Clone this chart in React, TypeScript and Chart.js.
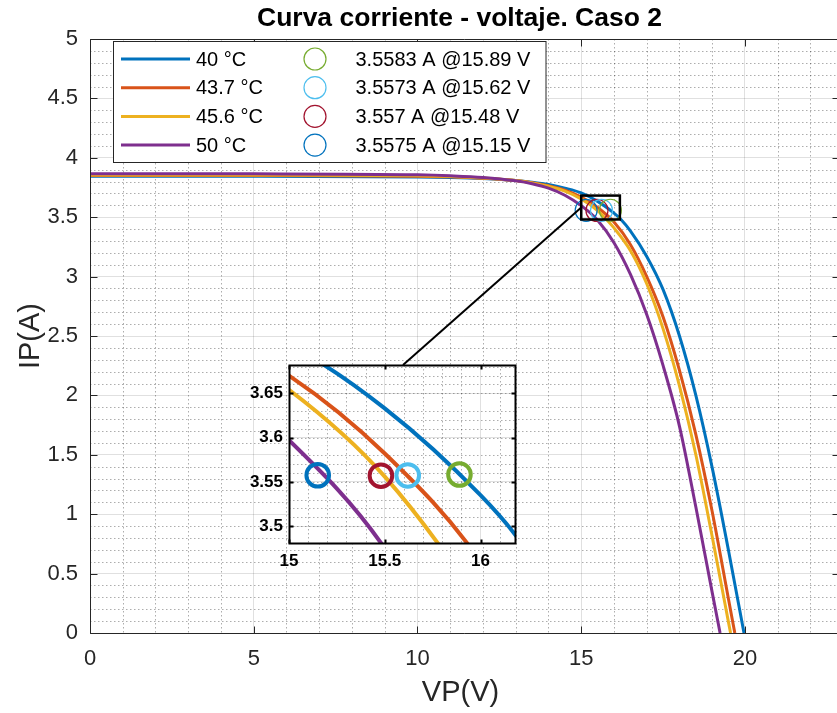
import React, { useEffect, useRef } from 'react';
import { Chart, registerables } from 'chart.js';

Chart.register(...registerables);

// ---------------- data ----------------
const seriesLabels = ['40 °C', '43.7 °C', '45.6 °C', '50 °C'];
const seriesColors = ['#0072BD', '#D95319', '#EDB120', '#7E2F8E'];

const v40 = [0, 5, 10, 11, 12, 13, 13.5, 14, 14.5, 15, 15.5, 16, 16.2, 16.5, 17, 17.5, 18, 18.5, 19, 19.5, 19.97];
const i40 = [3.845, 3.844, 3.838, 3.834, 3.826, 3.81, 3.795, 3.775, 3.745, 3.705, 3.633, 3.535, 3.485, 3.385, 3.17, 2.89, 2.5, 2.0, 1.39, 0.69, 0];

const v43 = [0, 5, 10, 11, 12, 13, 13.5, 14, 14.5, 15, 15.5, 16, 16.5, 17, 17.5, 18, 18.5, 19, 19.5, 19.69];
const i43 = [3.852, 3.851, 3.845, 3.84, 3.828, 3.808, 3.79, 3.764, 3.728, 3.67, 3.582, 3.46, 3.27, 3.0, 2.66, 2.21, 1.67, 1.02, 0.28, 0];

const v45 = [0, 5, 10, 11, 12, 13, 13.5, 14, 14.5, 15, 15.5, 16, 16.5, 17, 17.5, 18, 18.5, 19, 19.5, 19.56];
const i45 = [3.856, 3.855, 3.849, 3.843, 3.83, 3.809, 3.789, 3.76, 3.72, 3.654, 3.556, 3.41, 3.22, 2.94, 2.56, 2.08, 1.5, 0.81, 0.085, 0];

const v50 = [0, 5, 10, 11, 12, 13, 13.5, 14, 14.5, 15, 15.5, 16, 16.5, 17, 17.5, 18, 18.5, 19, 19.24];
const i50 = [3.866, 3.865, 3.857, 3.849, 3.835, 3.806, 3.782, 3.745, 3.685, 3.597, 3.475, 3.285, 3.02, 2.68, 2.25, 1.74, 1.06, 0.34, 0];

const markerLabels = ['3.5583 A @15.89 V', '3.5573 A @15.62 V', '3.557 A @15.48 V', '3.5575 A @15.15 V'];
const markerV = [15.89, 15.62, 15.48, 15.15];
const markerI = [3.5583, 3.5573, 3.557, 3.5575];
const markerColors = ['#77AC30', '#4DBEEE', '#A2142F', '#0072BD'];

const xTicks = [0, 5, 10, 15, 20];
const xTickLabels = ['0', '5', '10', '15', '20'];
const yTicks = [0, 0.5, 1, 1.5, 2, 2.5, 3, 3.5, 4, 4.5, 5];
const yTickLabels = ['0', '0.5', '1', '1.5', '2', '2.5', '3', '3.5', '4', '4.5', '5'];

const insetXTicks = [15, 15.5, 16];
const insetXTickLabels = ['15', '15.5', '16'];
const insetYTicks = [3.5, 3.55, 3.6, 3.65];
const insetYTickLabels = ['3.5', '3.55', '3.6', '3.65'];

const titleText = 'Curva corriente - voltaje. Caso 2';
const xLabelText = 'VP(V)';
const yLabelText = 'IP(A)';

// ---------------- styling / layout ----------------
const FONT = "'Liberation Sans', Arial, Helvetica, sans-serif";
const X_MIN = 0, X_MAX = 22.81, Y_MIN = 0, Y_MAX = 5;
const IX_MIN = 15.0, IX_MAX = 16.18, IY_MIN = 3.481, IY_MAX = 3.682;
const AXIS_COLOR = '#262626';
const MAJOR_GRID = 'rgba(0,0,0,0.12)';
const MINOR_GRID = 'rgba(0,0,0,0.32)';

const MAIN_W = 837, MAIN_H = 713;
const INSET_LEFT = 240, INSET_TOP = 355, INSET_W = 295, INSET_H = 230, INSET_RIGHT = 515;

function curveDatasets(lw: number, clip: any) {
  const vs = [v40, v43, v45, v50];
  const is = [i40, i43, i45, i50];
  return vs.map((arr, s) => ({
    label: seriesLabels[s],
    data: arr.map((v, k) => ({ x: v, y: is[s][k] })),
    borderColor: seriesColors[s],
    backgroundColor: seriesColors[s],
    borderWidth: lw,
    pointRadius: 0,
    pointHoverRadius: 0,
    cubicInterpolationMode: 'monotone',
    fill: false,
    clip,
    order: 10 - s,
  }));
}

function markerDatasets(r: number, lw: number) {
  return markerV.map((v, m) => ({
    label: markerLabels[m],
    data: [{ x: v, y: markerI[m] }],
    showLine: false,
    pointStyle: 'circle',
    pointRadius: r,
    pointHoverRadius: r,
    pointBorderWidth: lw,
    pointBorderColor: markerColors[m],
    pointBackgroundColor: 'rgba(0,0,0,0)',
    borderColor: markerColors[m],
    backgroundColor: 'rgba(0,0,0,0)',
    order: m,
  }));
}

function minorGrid(chart: any, xStep: number, xFrom: number, xTo: number, yStep: number, yFrom: number, yTo: number, skipX: number, skipY: number) {
  const { ctx, chartArea: a, scales } = chart;
  ctx.save();
  ctx.beginPath();
  ctx.rect(a.left, a.top, a.right - a.left, a.bottom - a.top);
  ctx.clip();
  ctx.strokeStyle = MINOR_GRID;
  ctx.lineWidth = 1;
  ctx.setLineDash([1.5, 2.5]);
  const nx = Math.round((xTo - xFrom) / xStep);
  for (let k = 0; k <= nx; k++) {
    if (k % skipX === 0) continue;
    const v = xFrom + k * xStep;
    const px = Math.round(scales.x.getPixelForValue(v)) + 0.5;
    ctx.beginPath();
    ctx.moveTo(px, a.top);
    ctx.lineTo(px, a.bottom);
    ctx.stroke();
  }
  const ny = Math.round((yTo - yFrom) / yStep);
  for (let k = 0; k <= ny; k++) {
    if (k % skipY === 0) continue;
    const v = yFrom + k * yStep;
    const py = Math.round(scales.y.getPixelForValue(v)) + 0.5;
    ctx.beginPath();
    ctx.moveTo(a.left, py);
    ctx.lineTo(a.right, py);
    ctx.stroke();
  }
  ctx.restore();
}

// box with inward ticks; rightExtra pushes the right edge outward (beyond a cropped canvas)
function boxAndTicks(chart: any, xt: number[], yt: number[], color: string, lw: number, len: number, rightExtra: number) {
  const { ctx, chartArea: a, scales } = chart;
  const L = Math.round(a.left) + 0.5;
  const T = Math.round(a.top) + 0.5;
  const B = Math.round(a.bottom) + 0.5;
  const R = Math.round(a.right + rightExtra) + 0.5;
  ctx.save();
  ctx.strokeStyle = color;
  ctx.lineWidth = lw;
  ctx.setLineDash([]);
  ctx.beginPath();
  xt.forEach((v) => {
    const px = Math.round(scales.x.getPixelForValue(v)) + 0.5;
    ctx.moveTo(px, B);
    ctx.lineTo(px, B - len);
    ctx.moveTo(px, T);
    ctx.lineTo(px, T + len);
  });
  yt.forEach((v) => {
    const py = Math.round(scales.y.getPixelForValue(v)) + 0.5;
    ctx.moveTo(L, py);
    ctx.lineTo(L + len, py);
    ctx.moveTo(R, py);
    ctx.lineTo(R - len, py);
  });
  ctx.stroke();
  ctx.beginPath();
  ctx.rect(L, T, R - L, B - T);
  ctx.stroke();
  ctx.restore();
}

const mainDecor = {
  id: 'mainDecor',
  beforeDatasetsDraw(chart: any) {
    minorGrid(chart, 1, 0, 22, 0.1, 0, 5, 5, 5);
  },
  afterDatasetsDraw(chart: any) {
    const { ctx, scales } = chart;
    boxAndTicks(chart, xTicks, yTicks, AXIS_COLOR, 1, 7, 2);
    // zoom rectangle and connector
    const rx0 = scales.x.getPixelForValue(IX_MIN);
    const rx1 = scales.x.getPixelForValue(IX_MAX);
    const ry0 = scales.y.getPixelForValue(IY_MAX);
    const ry1 = scales.y.getPixelForValue(IY_MIN);
    ctx.save();
    ctx.strokeStyle = '#000';
    ctx.lineWidth = 2.5;
    ctx.strokeRect(rx0, ry0, rx1 - rx0, ry1 - ry0);
    ctx.lineWidth = 2;
    ctx.beginPath();
    ctx.moveTo(403, INSET_TOP + 10);
    ctx.lineTo(rx0, (ry0 + ry1) / 2);
    ctx.stroke();
    ctx.restore();

    // legend
    const lx = 113.5, ly = 41.5, lw = 432.5, lh = 121;
    ctx.save();
    ctx.fillStyle = '#fff';
    ctx.fillRect(lx, ly, lw, lh);
    ctx.strokeStyle = AXIS_COLOR;
    ctx.lineWidth = 1;
    ctx.strokeRect(lx, ly, lw, lh);
    ctx.font = `20px ${FONT}`;
    ctx.textBaseline = 'middle';
    ctx.textAlign = 'left';
    for (let r = 0; r < 4; r++) {
      const y = 59 + r * 28.7;
      ctx.strokeStyle = seriesColors[r];
      ctx.lineWidth = 3;
      ctx.beginPath();
      ctx.moveTo(121, y);
      ctx.lineTo(190, y);
      ctx.stroke();
      ctx.fillStyle = '#000';
      ctx.fillText(seriesLabels[r], 196, y + 1);
      ctx.strokeStyle = markerColors[r];
      ctx.lineWidth = 1.2;
      ctx.beginPath();
      ctx.arc(315, y, 11, 0, Math.PI * 2);
      ctx.stroke();
      ctx.fillText(markerLabels[r], 355.5, y + 1);
    }
    ctx.restore();
  },
  afterDraw(chart: any) {
    const { ctx, chartArea: a } = chart;
    const cx = (a.left + a.right + 2) / 2;
    ctx.save();
    ctx.fillStyle = '#000';
    ctx.textAlign = 'center';
    ctx.textBaseline = 'middle';
    ctx.font = `bold 26.5px ${FONT}`;
    ctx.fillText(titleText, cx - 5, 19);
    ctx.fillStyle = AXIS_COLOR;
    ctx.font = `29px ${FONT}`;
    ctx.fillText(xLabelText, cx - 4, 693);
    ctx.translate(31, (a.top + a.bottom) / 2);
    ctx.rotate(-Math.PI / 2);
    ctx.fillText(yLabelText, 0, 0);
    ctx.restore();
  },
};

const insetDecor = {
  id: 'insetDecor',
  beforeDraw(chart: any) {
    const { ctx, chartArea: a } = chart;
    ctx.save();
    ctx.fillStyle = '#fff';
    ctx.fillRect(a.left, a.top, a.right - a.left, a.bottom - a.top);
    ctx.restore();
  },
  beforeDatasetsDraw(chart: any) {
    minorGrid(chart, 0.1, 15, 16.1, 0.01, 3.49, 3.68, 5, 5);
  },
  afterDatasetsDraw(chart: any) {
    boxAndTicks(chart, insetXTicks, insetYTicks, '#000', 2, 4, 0);
  },
};

function axisCfg(min: number, max: number, ticks: number[], labels: string[], fit: (s: any) => void, font: any, color: string, padding: number) {
  return {
    type: 'linear',
    min,
    max,
    afterBuildTicks: (s: any) => {
      const t = ticks.map((v) => ({ value: v }));
      if (ticks[ticks.length - 1] < max) t.push({ value: max });
      s.ticks = t;
    },
    afterFit: (s: any) => {
      fit(s);
      s.paddingLeft = 0;
      s.paddingRight = 0;
      s.paddingTop = 0;
      s.paddingBottom = 0;
    },
    grid: { color: MAJOR_GRID, lineWidth: 1, drawTicks: false },
    border: { display: false },
    ticks: {
      autoSkip: false,
      maxRotation: 0,
      minRotation: 0,
      padding,
      color,
      font,
      callback: (_v: any, idx: number) => (idx < labels.length ? labels[idx] : ''),
    },
  };
}

export default function App() {
  const mainRef = useRef<HTMLCanvasElement>(null);
  const insetRef = useRef<HTMLCanvasElement>(null);

  useEffect(() => {
    const main = new Chart(mainRef.current as HTMLCanvasElement, {
      type: 'line',
      data: { datasets: [...curveDatasets(3, undefined), ...markerDatasets(11, 1.2)] as any },
      options: {
        animation: false,
        responsive: false,
        devicePixelRatio: 1,
        layout: { autoPadding: false, padding: { top: 39, right: 0, bottom: 0, left: 0 } },
        plugins: { legend: { display: false }, tooltip: { enabled: false }, title: { display: false } },
        events: [],
        scales: {
          x: axisCfg(X_MIN, X_MAX, xTicks, xTickLabels, (s: any) => { s.height = 80; }, { family: FONT, size: 22 }, AXIS_COLOR, 13) as any,
          y: axisCfg(Y_MIN, Y_MAX, yTicks, yTickLabels, (s: any) => { s.width = 90; }, { family: FONT, size: 22 }, AXIS_COLOR, 12) as any,
        },
      },
      plugins: [mainDecor],
    });

    const inset = new Chart(insetRef.current as HTMLCanvasElement, {
      type: 'line',
      data: { datasets: [...curveDatasets(4, 0), ...markerDatasets(11.3, 4)] as any },
      options: {
        animation: false,
        responsive: false,
        devicePixelRatio: 1,
        layout: { autoPadding: false, padding: { top: 10, right: INSET_W - (INSET_RIGHT - INSET_LEFT), bottom: 0, left: 0 } },
        plugins: { legend: { display: false }, tooltip: { enabled: false }, title: { display: false } },
        events: [],
        scales: {
          x: axisCfg(IX_MIN, IX_MAX, insetXTicks, insetXTickLabels, (s: any) => { s.height = INSET_H - (543 - INSET_TOP); }, { family: FONT, size: 17, weight: 'bold' }, '#000', 8) as any,
          y: axisCfg(IY_MIN, IY_MAX, insetYTicks, insetYTickLabels, (s: any) => { s.width = 289 - INSET_LEFT; }, { family: FONT, size: 17, weight: 'bold' }, '#000', 6) as any,
        },
      },
      plugins: [insetDecor],
    });

    return () => {
      main.destroy();
      inset.destroy();
    };
  }, []);

  return (
    <div style={{ position: 'absolute', left: 0, top: 0, width: MAIN_W, height: MAIN_H, overflow: 'hidden', background: '#fff' }}>
      <canvas ref={mainRef} width={MAIN_W} height={MAIN_H} style={{ position: 'absolute', left: 0, top: 0, width: MAIN_W, height: MAIN_H }} />
      <canvas
        ref={insetRef}
        width={INSET_W}
        height={INSET_H}
        style={{ position: 'absolute', left: INSET_LEFT, top: INSET_TOP, width: INSET_W, height: INSET_H }}
      />
    </div>
  );
}
